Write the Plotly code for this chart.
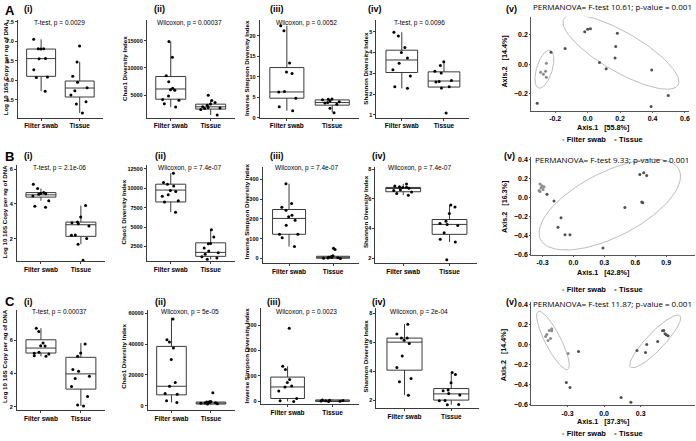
import numpy as np
import plotly.graph_objects as go

W, H = 696, 441
CATS = ["Filter swab", "Tissue"]

# ---------------- Box-plot data ----------------
# Row A
A1_fs = [7.05, 6.81, 6.81, 6.80, 6.56, 6.55, 6.27, 6.08, 6.07, 5.72]
A1_t = [6.88, 6.47, 6.10, 5.95, 5.81, 5.73, 5.62, 5.45, 5.39, 5.16]
A1_q1, A1_med, A1_q3 = [6.10, 5.57], [6.555, 5.80], [6.80, 5.98]
A1_lo, A1_hi = [5.72, 5.16], [7.05, 6.47]

A2_fs = [14820, 11930, 8550, 7470, 6265, 6020, 5900, 4880, 4220, 4100, 3430, 2830]
A2_t = [5000, 4036, 3674, 3400, 3193, 2900, 2771, 2650, 2590, 2400, 1386]
A2_q1, A2_med, A2_q3 = [4277, 2470], [6145, 2892], [8434, 3373]
A2_lo, A2_hi = [2830, 1386], [14820, 4036]

A3_fs = [22.5, 21.3, 13.4, 11.2, 10.8, 6.4, 6.3, 4.76, 2.66, 1.7]
A3_t = [4.6, 4.5, 4.4, 4.1, 3.9, 3.7, 3.6, 3.3, 2.3, 1.2]
A3_q1, A3_med, A3_q3 = [4.76, 3.06], [6.29, 3.7], [12.26, 4.35]
A3_lo, A3_hi = [1.7, 1.3], [22.5, 4.6]

A4_fs = [4.97, 4.79, 4.24, 4.0, 3.73, 3.48, 3.17, 2.87, 2.36, 2.28]
A4_t = [3.56, 3.37, 3.10, 3.02, 2.66, 2.61, 2.58, 2.36, 2.3, 1.1]
A4_q1, A4_med, A4_q3 = [3.04, 2.34], [3.64, 2.63], [4.11, 3.07]
A4_lo, A4_hi = [2.28, 2.3], [4.97, 3.58]

# Row B
B1_fs = [5.13, 4.88, 4.65, 4.60, 4.58, 4.56, 4.46, 4.18, 3.86, 3.80]
B1_t = [3.9, 3.25, 2.95, 2.91, 2.85, 2.72, 2.21, 2.19, 2.0, 1.68, 0.75]
B1_q1, B1_med, B1_q3 = [4.39, 2.13], [4.52, 2.80], [4.65, 2.95]
B1_lo, B1_hi = [4.18, 1.68], [4.88, 3.9]

B2_fs = [11950, 10755, 10540, 10300, 9730, 9610, 9180, 8970, 8400, 8245, 6925]
B2_t = [4670, 3730, 2880, 2840, 2300, 1900, 1690, 1500, 1180, 1000, 840]
B2_q1, B2_med, B2_q3 = [8245, 1223], [9780, 1734], [10540, 2968]
B2_lo, B2_hi = [6925, 840], [11950, 4670]

B3_fs = [377, 277, 258, 243, 218, 210, 193, 167, 122, 122, 105, 60]
B3_t = [52, 45, 14, 10, 6, 5, 3, 2, 1, 0]
B3_q1, B3_med, B3_q3 = [122, 1], [202, 5], [247, 11]
B3_lo, B3_hi = [60, 0], [377, 14]

B4_fs = [7.0, 6.85, 6.8, 6.78, 6.75, 6.7, 6.6, 6.55, 6.45, 6.36, 6.24]
B4_t = [5.58, 5.44, 5.0, 4.49, 4.33, 4.27, 4.2, 3.71, 3.27, 3.09, 1.89]
B4_q1, B4_med, B4_q3 = [6.47, 3.6], [6.69, 4.27], [6.76, 4.6]
B4_lo, B4_hi = [6.24, 3.09], [7.0, 5.58]

# Row C
C1_fs = [6.74, 6.54, 5.84, 5.68, 5.66, 5.28, 5.22, 5.18, 5.08, 5.04]
C1_t = [5.78, 5.24, 5.04, 4.24, 4.14, 3.84, 3.70, 3.22, 2.62, 2.1, 2.04]
C1_q1, C1_med, C1_q3 = [5.24, 3.06], [5.54, 3.98], [6.04, 4.98]
C1_lo, C1_hi = [5.04, 2.04], [6.74, 5.84]

C2_fs = [56360, 42850, 41350, 37500, 30000, 15000, 12630, 7920, 7500, 3200, 2140]
C2_t = [8350, 2780, 2500, 2340, 2100, 1920, 1700, 1500, 1200, 1060]
C2_q1, C2_med, C2_q3 = [7050, 1060], [12630, 1920], [38560, 2340]
C2_lo, C2_hi = [2140, 600], [57200, 2780]

C3_fs = [287, 138, 125, 86, 74, 61, 57, 41, 12, 3, 0]
C3_t = [6, 5, 4, 3, 2, 1, 0]
C3_q1, C3_med, C3_q3 = [11.5, 0], [56.8, 2], [95.6, 6]
C3_lo, C3_hi = [0, 0], [138, 8]

C4_fs = [7.25, 6.58, 6.29, 6.29, 6.15, 5.92, 5.05, 4.26, 3.5, 3.27, 2.34]
C4_t = [3.91, 3.78, 3.2, 2.7, 2.64, 2.45, 2.36, 1.98, 1.95, 1.7, 1.68]
C4_q1, C4_med, C4_q3 = [4.07, 2.0], [6.01, 2.43], [6.29, 2.8]
C4_lo, C4_hi = [2.34, 1.68], [7.25, 3.91]

# ---------------- PCoA data ----------------
PA_fs_x = [-0.255, -0.29, -0.273, -0.26, -0.255]
PA_fs_y = [0.007, -0.053, -0.067, -0.047, -0.087]
PA_t_x = [-0.226, -0.139, -0.018, 0.0, 0.017, 0.183, 0.173, 0.169, 0.073, 0.114, 0.395, 0.497, 0.391, -0.311]
PA_t_y = [0.082, 0.107, 0.22, 0.237, 0.24, 0.21, 0.12, 0.043, 0.013, -0.03, -0.039, -0.211, -0.284, -0.262]
# ellipse: centre x, centre y, half-axis-1 (dx, dy), half-axis-2 (dx, dy)
PA_ell_fs = [-0.267, -0.033, 0.036, 0.127, 0.046, -0.016]
PA_ell_t = [0.205, 0.083, 0.352, -0.223, -0.062, -0.115]
PA_xticks = [-0.2, 0.0, 0.2, 0.4, 0.6]
PA_xtext = ["-0.2", "0.0", "0.2", "0.4", "0.6"]

PB_fs_x = [-0.325, -0.305, -0.315, -0.295, -0.325, -0.286, -0.334]
PB_fs_y = [0.139, 0.119, 0.099, 0.079, 0.059, 0.109, 0.069]
PB_t_x = [-0.257, -0.189, -0.121, -0.15, -0.082, -0.034, 0.286, 0.499, 0.663, 0.673, 0.644, 0.682, 0.711]
PB_t_y = [0.03, -0.04, -0.218, -0.317, -0.396, -0.396, -0.535, -0.109, -0.05, -0.06, 0.238, 0.257, 0.228]
PB_ell = [0.353, -0.079, 0.668, 0.376, 0.159, -0.295]
PB_xticks = [-0.3, 0.0, 0.3, 0.6, 0.9]
PB_xtext = ["-0.3", "0.0", "0.3", "0.6", "0.9"]

PC_fs_x = [-0.48, -0.45, -0.43, -0.43, -0.46, -0.44, -0.47, -0.295]
PC_fs_y = [0.08, 0.14, 0.157, 0.137, 0.04, 0.06, 0.10, -0.09]
PC_t_x = [-0.21, -0.31, -0.28, 0.14, 0.22, 0.27, 0.34, 0.35, 0.44, 0.48, 0.50, 0.51, 0.525, 0.49]
PC_t_y = [-0.07, -0.38, -0.43, -0.53, -0.58, -0.06, -0.08, 0.0, 0.03, 0.137, 0.108, 0.098, 0.088, 0.14]
PC_ell_fs = [-0.42, 0.04, 0.12, -0.29, 0.06, 0.03]
PC_ell_t = [0.42, 0.03, 0.2, 0.26, 0.06, -0.05]
PC_xticks = [-0.3, 0.0, 0.3]
PC_xtext = ["-0.3", "0.0", "0.3"]

PERM_TEXT = ["PERMANOVA= F-test 10.61; p-value = 0.001",
             "PERMANOVA= F-test 9.33; p-value = 0.001",
             "PERMANOVA= F-test 11.87; p-value = 0.001"]
AXIS1_TEXT = ["Axis.1   [55.8%]", "Axis.1   [42.8%]", "Axis.1   [37.3%]"]
AXIS2_TEXT = ["Axis.2   [14.4%]", "Axis.2   [16.3%]", "Axis.2   [14.4%]"]
PVAL_TEXT = [["T-test, p = 0.0029", "Wilcoxon, p = 0.00037", "Wilcoxon, p = 0.0052", "T-test, p = 0.0096"],
             ["T-test, p = 2.1e-06", "Wilcoxon, p = 7.4e-07", "Wilcoxon, p = 7.4e-07", "Wilcoxon, p = 7.4e-07"],
             ["T-test, p = 0.00037", "Wilcoxon, p = 5e-05", "Wilcoxon, p = 0.0023", "Wilcoxon, p = 2e-04"]]
YTITLES = ["Log 10 16S Copy per ng of DNA", "Chao1 Diversity Index",
           "Inverse Simpson Diversity Index", "Shannon Diversity Index"]
ROW_LETTERS = ["A", "B", "C"]
SUB_LABELS = ["(i)", "(ii)", "(iii)", "(iv)", "(v)"]

# ---------------- figure construction ----------------
FONT = "Liberation Sans"
fig = go.Figure()
layout = dict(width=W, height=H, margin=dict(l=0, r=0, t=0, b=0),
              paper_bgcolor="white", plot_bgcolor="white", showlegend=False,
              boxmode="overlay")
annotations = []
counter = [0]


def fx(p):
    return p / W


def fy(p):
    return 1 - p / H


def ann(text, x, y, size, bold=False, xanchor="center", yanchor="middle",
        angle=0, family=FONT, color="black"):
    t = "<b>%s</b>" % text if bold else text
    annotations.append(dict(text=t, x=fx(x), y=fy(y), xref="paper", yref="paper",
                            showarrow=False, xanchor=xanchor, yanchor=yanchor,
                            textangle=angle, font=dict(size=size, family=family, color=color)))


def new_axes():
    counter[0] += 1
    i = counter[0]
    s = "" if i == 1 else str(i)
    return "x" + s, "y" + s, "xaxis" + s, "yaxis" + s


def box_panel(px, py, fs, t, q1, med, q3, lo, hi, yr, dtick, fmt):
    xa, ya, xk, yk = new_axes()
    fig.add_trace(go.Box(x=CATS, q1=q1, median=med, q3=q3, lowerfence=lo, upperfence=hi,
                         width=0.75, fillcolor="white", line=dict(color="#3a3a3a", width=1),
                         whiskerwidth=0, boxpoints=False, xaxis=xa, yaxis=ya, hoverinfo="skip"))
    fig.add_trace(go.Box(x=[CATS[0]] * len(fs) + [CATS[1]] * len(t), y=fs + t,
                         width=0.75, boxpoints="all", jitter=0.7, pointpos=0,
                         fillcolor="rgba(0,0,0,0)", line=dict(color="rgba(0,0,0,0)", width=0),
                         marker=dict(color="black", size=3), xaxis=xa, yaxis=ya))
    layout[xk] = dict(domain=[fx(px[0]), fx(px[1])], anchor=ya, range=[-0.6, 1.6],
                      showline=True, linecolor="#3a3a3a", linewidth=1, ticks="outside",
                      ticklen=2, tickcolor="#3a3a3a", showgrid=False, zeroline=False,
                      tickfont=dict(size=6.5, family=FONT, color="black", weight="bold"))
    layout[yk] = dict(domain=[fy(py[1]), fy(py[0])], anchor=xa, range=yr, dtick=dtick,
                      tickformat=fmt, showline=True, linecolor="#3a3a3a", linewidth=1,
                      ticks="outside", ticklen=2, tickcolor="#3a3a3a", showgrid=False,
                      zeroline=False, tickfont=dict(size=5.5, family=FONT, color="black", weight="bold"))


def ellipse(p):
    tt = np.linspace(0, 2 * np.pi, 100)
    return (p[0] + p[2] * np.cos(tt) + p[4] * np.sin(tt),
            p[1] + p[3] * np.cos(tt) + p[5] * np.sin(tt))


def pcoa_panel(px, py, fsx, fsy, tx, ty, ells, xr, yr, xticks, xtext, ydt):
    xa, ya, xk, yk = new_axes()
    for e in ells:
        ex, ey = ellipse(e)
        fig.add_trace(go.Scatter(x=ex, y=ey, mode="lines", line=dict(color="#bdbdbd", width=1),
                                 xaxis=xa, yaxis=ya, hoverinfo="skip"))
    fig.add_trace(go.Scatter(x=fsx, y=fsy, mode="markers", marker=dict(color="#8c8c8c", size=3),
                             xaxis=xa, yaxis=ya))
    fig.add_trace(go.Scatter(x=tx, y=ty, mode="markers", marker=dict(color="#505050", size=3),
                             xaxis=xa, yaxis=ya))
    layout[xk] = dict(domain=[fx(px[0]), fx(px[1])], anchor=ya, range=xr, tickmode="array",
                      tickvals=xticks, ticktext=xtext, showline=True, linecolor="#555",
                      linewidth=1, ticks="outside", ticklen=1, tickcolor="#555", showgrid=False,
                      zeroline=False, ticklabeloverflow="allow",
                      tickfont=dict(size=7, family=FONT, color="black", weight="bold"))
    layout[yk] = dict(domain=[fy(py[1]), fy(py[0])], anchor=xa, range=yr, dtick=ydt,
                      tickformat=".1f", showline=True, linecolor="#555", linewidth=1,
                      ticks="outside", ticklen=1, tickcolor="#555", showgrid=False, zeroline=False,
                      tickfont=dict(size=7, family=FONT, color="black", weight="bold"))


# Row A
box_panel((18, 103), (18, 117), A1_fs, A1_t, A1_q1, A1_med, A1_q3, A1_lo, A1_hi, [5.04, 7.55], 0.5, ".1f")
box_panel((147, 235), (18, 117), A2_fs, A2_t, A2_q1, A2_med, A2_q3, A2_lo, A2_hi, [900, 18800], 5000, "d")
box_panel((260, 360), (18, 117), A3_fs, A3_t, A3_q1, A3_med, A3_q3, A3_lo, A3_hi, [0, 23.95], 5, "d")
box_panel((377, 470), (18, 117), A4_fs, A4_t, A4_q1, A4_med, A4_q3, A4_lo, A4_hi, [0.87, 5.57], 1, "d")
pcoa_panel((532, 690), (15, 110), PA_fs_x, PA_fs_y, PA_t_x, PA_t_y, [PA_ell_fs, PA_ell_t],
           [-0.348, 0.625], [-0.313, 0.32], PA_xticks, PA_xtext, 0.2)

# Row B
box_panel((17, 105), (165, 262), B1_fs, B1_t, B1_q1, B1_med, B1_q3, B1_lo, B1_hi, [0.71, 6.23], 2, "d")
box_panel((147, 235), (165, 262), B2_fs, B2_t, B2_q1, B2_med, B2_q3, B2_lo, B2_hi, [620, 13000], 2500, "d")
box_panel((263, 360), (167, 264), B3_fs, B3_t, B3_q1, B3_med, B3_q3, B3_lo, B3_hi, [-23, 461], 100, "d")
box_panel((376, 478), (167, 264), B4_fs, B4_t, B4_q1, B4_med, B4_q3, B4_lo, B4_hi, [1.67, 8.13], 2, "d")
pcoa_panel((532, 696), (157, 256), PB_fs_x, PB_fs_y, PB_t_x, PB_t_y, [PB_ell],
           [-0.41, 1.18], [-0.61, 0.42], PB_xticks, PB_xtext, 0.2)

# Row C
box_panel((17, 105), (312, 413), C1_fs, C1_t, C1_q1, C1_med, C1_q3, C1_lo, C1_hi, [1.78, 7.81], 2, "d")
box_panel((148, 235), (312, 413), C2_fs, C2_t, C2_q1, C2_med, C2_q3, C2_lo, C2_hi, [-3020, 61930], 20000, "d")
box_panel((261, 360), (310, 407), C3_fs, C3_t, C3_q1, C3_med, C3_q3, C3_lo, C3_hi, [-11.6, 365], 100, "d")
box_panel((377, 480), (310, 411), C4_fs, C4_t, C4_q1, C4_med, C4_q3, C4_lo, C4_hi, [1.43, 8.34], 2, "d")
pcoa_panel((532, 696), (303, 408), PC_fs_x, PC_fs_y, PC_t_x, PC_t_y, [PC_ell_fs, PC_ell_t],
           [-0.598, 0.746], [-0.61, 0.429], PC_xticks, PC_xtext, 0.2)

# ---------------- text ----------------
row_y = [(8, 7, 21), (155, 156, 168), (302, 303, 314)]
pval_x = [60, 190, 307, 420]
ytitle_x = [5, 124, 247, 366]
ytitle_y = [67, 212, 358]
sub_x = [[22, 152, 268, 367, 505], [22, 153, 268, 371, 503], [22, 153, 265, 371, 505]]
axis1_y = [127, 274, 424]
axis2_y = [60, 207, 357]
legend_y = [139, 291, 436]
perm_y = [5, 159, 305]

for r in range(3):
    ly, sy, py = row_y[r]
    ann(ROW_LETTERS[r], 3, ly + 1, 13, bold=True, xanchor="left")
    for k in range(5):
        ann(SUB_LABELS[k], sub_x[r][k], sy, 9, bold=True, xanchor="left")
    for k in range(4):
        ann(PVAL_TEXT[r][k], pval_x[k], py, 6.5)
        ann(YTITLES[k], ytitle_x[k], ytitle_y[r], 6.2, bold=True, angle=-90)
    ann(PERM_TEXT[r], 613, perm_y[r], 8, family="Open Sans")
    ann(AXIS1_TEXT[r], 604, axis1_y[r], 7.2, bold=True)
    ann(AXIS2_TEXT[r], 505, axis2_y[r], 7.2, bold=True, angle=-90)
    ann("<span style='color:#a8a8a8'>▪</span> <b>Filter swab</b>    "
        "<span style='color:#808080'>▪</span> <b>Tissue</b>", 603, legend_y[r], 7.5)

layout["annotations"] = annotations
fig.update_layout(**layout)
fig.write_html("out.html", config={"displayModeBar": False},
               post_script="document.body.style.margin='0';document.body.style.overflow='hidden';")
